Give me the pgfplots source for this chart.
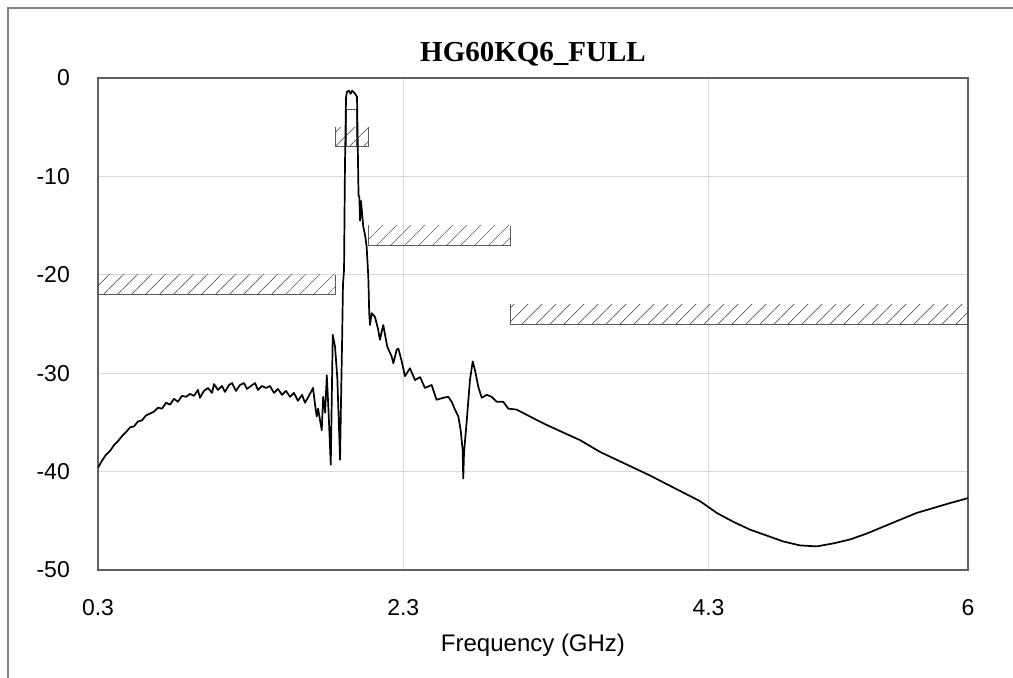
\documentclass[border=0pt]{standalone}
\usepackage{fontspec}
\setmainfont{Liberation Sans}
\newfontfamily\titlefont{Liberation Serif}
\usepackage{pgfplots}
\pgfplotsset{compat=1.18}
\usetikzlibrary{patterns.meta}

\definecolor{framegray}{RGB}{128,128,128}
\definecolor{boxgray}{RGB}{96,96,96}
\definecolor{gridgray}{RGB}{215,215,215}
\definecolor{maskgray}{RGB}{90,90,90}

\tikzset{mask/.style={draw=maskgray, line width=1pt,
    pattern={Lines[angle=45,distance=9.9pt,line width=0.7pt]}, pattern color=maskgray}}

\begin{document}
\begin{tikzpicture}
  % screenshot frame
  \useasboundingbox (-98pt,-108pt) rectangle (915pt,570pt);
  \draw[framegray, line width=2pt] (-90pt,-108pt) -- (-90pt,562pt) -- (915pt,562pt);

  \begin{axis}[
      at={(0pt,0pt)}, anchor=south west,
      scale only axis,
      width=870pt, height=492pt,
      xmin=0.3, xmax=6, ymin=-50, ymax=0,
      xtick={0.3,2.3,4.3,6}, xticklabels={0.3,2.3,4.3,6},
      ytick={-50,-40,-30,-20,-10,0}, yticklabels={-50,-40,-30,-20,-10,0},
      major tick length=0pt,
      grid=major,
      major grid style={gridgray, line width=1pt},
      axis line style={boxgray, line width=1.3pt},
      tick label style={font=\fontsize{23}{23}\selectfont, inner sep=0pt},
      xticklabel style={anchor=base, yshift=-45.5pt},
      yticklabel style={anchor=east, xshift=-28pt},
      title={HG60KQ6\_FULL},
      title style={at={(0.5,1)}, anchor=base, yshift=10.5pt,
        font=\titlefont\bfseries\fontsize{29}{29}\selectfont},
      xlabel={Frequency (GHz)},
      xlabel style={at={(0.5,0)}, anchor=base, yshift=-81.5pt,
        font=\fontsize{24}{24}\selectfont},
    ]

    % limit masks
    \addplot[mask] coordinates {(0.3,-20) (0.3,-22) (1.854,-22) (1.854,-20)};
    \addplot[mask] coordinates {(1.854,-5) (1.854,-7) (2.07,-7) (2.07,-5)};
    \addplot[draw=maskgray, line width=1pt] coordinates {(1.929,-7) (1.929,-3.2) (1.995,-3.2) (1.995,-7)};
    \addplot[mask] coordinates {(2.07,-15) (2.07,-17) (3.0,-17) (3.0,-15)};
    \addplot[mask] coordinates {(3.0,-23) (3.0,-25) (6.0,-25) (6.0,-23)};

    % measured response
    \addplot[black, line width=1.7pt, line join=round] coordinates {
      (0.300,-39.6) (0.326,-38.9) (0.352,-38.3) (0.379,-37.9) (0.405,-37.3)
      (0.431,-36.9) (0.457,-36.4) (0.483,-36.0) (0.510,-35.5) (0.536,-35.4)
      (0.562,-34.9) (0.588,-34.8) (0.614,-34.3) (0.641,-34.1) (0.667,-33.9)
      (0.693,-33.5) (0.719,-33.6) (0.746,-33.0) (0.772,-33.2) (0.798,-32.6)
      (0.824,-32.9) (0.850,-32.3) (0.877,-32.4) (0.903,-32.1) (0.929,-32.3)
      (0.955,-31.7) (0.968,-32.5) (0.994,-31.8) (1.021,-31.5) (1.047,-32.0)
      (1.060,-31.1) (1.086,-31.7) (1.112,-31.3) (1.132,-31.9) (1.158,-31.2)
      (1.178,-31.0) (1.204,-31.8) (1.230,-31.2) (1.257,-31.0) (1.276,-31.6)
      (1.302,-31.3) (1.329,-31.0) (1.348,-31.7) (1.374,-31.3) (1.401,-31.5)
      (1.427,-31.3) (1.453,-32.0) (1.479,-31.6) (1.506,-32.2) (1.532,-31.8)
      (1.558,-32.4) (1.584,-32.0) (1.610,-32.8) (1.637,-32.2) (1.656,-33.0)
      (1.682,-32.3) (1.709,-31.5) (1.722,-33.2) (1.733,-34.4) (1.742,-33.6)
      (1.755,-34.8) (1.766,-35.8) (1.775,-32.4) (1.788,-34.0) (1.799,-30.2)
      (1.810,-33.7) (1.825,-39.3) (1.838,-26.1) (1.853,-27.3) (1.868,-30.5)
      (1.886,-38.8) (1.892,-33.0) (1.899,-27.0) (1.905,-21.0) (1.912,-19.5)
      (1.918,-9.0) (1.925,-2.0) (1.931,-1.4) (1.944,-1.3) (1.955,-1.6)
      (1.965,-1.3) (1.973,-1.4) (1.984,-1.6) (1.997,-1.9) (2.003,-8.0)
      (2.007,-12.0) (2.012,-12.0) (2.017,-14.5) (2.023,-12.5) (2.038,-15.1)
      (2.050,-16.0) (2.060,-17.1) (2.071,-20.2) (2.077,-23.9) (2.082,-25.1)
      (2.093,-23.9) (2.115,-24.3) (2.136,-25.6) (2.147,-26.6) (2.169,-25.1)
      (2.195,-27.3) (2.224,-28.3) (2.235,-29.0) (2.257,-27.6) (2.268,-27.5)
      (2.290,-28.8) (2.311,-30.3) (2.344,-29.5) (2.377,-30.7) (2.410,-30.4)
      (2.442,-31.5) (2.486,-31.2) (2.518,-32.7) (2.562,-32.5) (2.595,-32.4)
      (2.617,-32.9) (2.639,-33.7) (2.661,-34.4) (2.676,-35.8) (2.689,-37.8)
      (2.693,-40.7) (2.698,-38.1) (2.716,-34.8) (2.737,-30.7) (2.755,-28.8)
      (2.770,-29.7) (2.792,-31.4) (2.814,-32.5) (2.847,-32.2) (2.879,-32.4)
      (2.912,-32.9) (2.955,-32.9) (2.988,-33.6) (3.043,-33.7) (3.130,-34.4)
      (3.218,-35.1) (3.316,-35.8) (3.458,-36.8) (3.589,-38.0) (3.753,-39.2)
      (3.917,-40.4) (4.080,-41.7) (4.244,-43.0) (4.354,-44.2) (4.462,-45.1)
      (4.572,-45.9) (4.681,-46.5) (4.790,-47.1) (4.899,-47.5) (5.009,-47.6)
      (5.117,-47.3) (5.227,-46.9) (5.336,-46.3) (5.445,-45.6) (5.554,-44.9)
      (5.664,-44.2) (5.773,-43.7) (5.882,-43.2) (6.000,-42.7)
    };
  \end{axis}
\end{tikzpicture}
\end{document}
